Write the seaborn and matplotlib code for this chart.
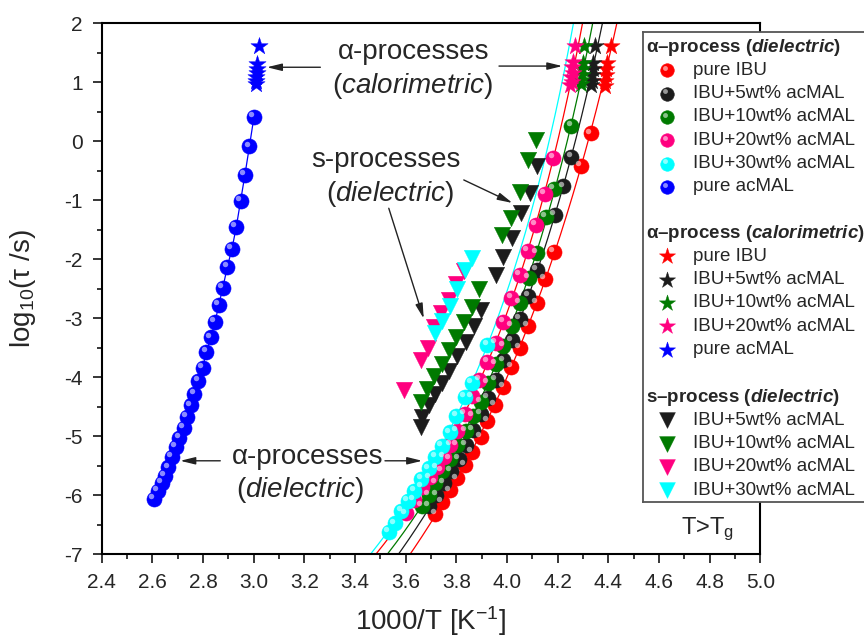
import numpy as np
import matplotlib
matplotlib.use("Agg")
import matplotlib.pyplot as plt
from matplotlib.transforms import offset_copy
import seaborn as sns

sns.set_style("ticks")
plt.rcParams['font.family'] = ['Liberation Sans', 'DejaVu Sans']
plt.rcParams['axes.unicode_minus'] = False
plt.rcParams['mathtext.fontset'] = 'custom'
plt.rcParams['mathtext.rm'] = 'Liberation Sans'
plt.rcParams['mathtext.it'] = 'Liberation Sans:italic'
plt.rcParams['mathtext.bf'] = 'Liberation Sans:bold'
plt.rcParams['mathtext.bfit'] = 'Liberation Sans:bold:italic'

# ---------------------------------------------------------------------------
# data: x = 1000/T [1/K], y = log10(tau/s)
# ---------------------------------------------------------------------------
# alpha-process, dielectric (circles)
ibu_x = [4.330, 4.292, 4.185, 4.149, 4.117, 4.082, 4.049, 4.017, 3.985, 3.952,
         3.922, 3.895, 3.862, 3.832, 3.803, 3.774, 3.744, 3.717]
ibu_y = [0.13, -0.42, -1.88, -2.34, -2.74, -3.13, -3.50, -3.83, -4.17, -4.47,
         -4.75, -5.02, -5.27, -5.49, -5.72, -5.92, -6.11, -6.32]

m5_x = [4.254, 4.222, 4.188, 4.117, 4.084, 4.051, 4.018, 3.985, 3.955, 3.925,
        3.895, 3.866, 3.836, 3.810, 3.777, 3.750, 3.721, 3.691]
m5_y = [-0.27, -0.77, -1.25, -2.19, -2.63, -3.01, -3.38, -3.72, -4.05, -4.35,
        -4.62, -4.90, -5.15, -5.39, -5.59, -5.80, -6.00, -6.19]

m10_x = [4.254, 4.185, 4.153, 4.119, 4.085, 4.049, 4.018, 3.985, 3.955, 3.925,
         3.895, 3.866, 3.836, 3.803, 3.774, 3.744, 3.717, 3.691, 3.665]
m10_y = [0.25, -0.81, -1.28, -1.90, -2.32, -2.75, -3.14, -3.47, -3.78, -4.10,
         -4.42, -4.66, -4.91, -5.15, -5.39, -5.59, -5.80, -6.00, -6.19]

m20_x = [4.183, 4.148, 4.115, 4.081, 4.049, 4.017, 3.985, 3.955, 3.922, 3.891,
         3.862, 3.832, 3.803, 3.776, 3.750, 3.724, 3.695, 3.665, 3.632, 3.599]
m20_y = [-0.29, -0.89, -1.42, -1.86, -2.27, -2.66, -3.06, -3.42, -3.75, -4.05,
         -4.33, -4.62, -4.91, -5.15, -5.35, -5.53, -5.70, -5.86, -6.08, -6.31]

m30_x = [3.922, 3.862, 3.832, 3.800, 3.774, 3.744, 3.717, 3.691, 3.662, 3.634,
         3.609, 3.583, 3.557, 3.533]
m30_y = [-3.46, -4.10, -4.34, -4.66, -4.94, -5.17, -5.36, -5.55, -5.73, -5.93,
         -6.10, -6.27, -6.48, -6.62]

mal_x = [3.001, 2.983, 2.965, 2.948, 2.931, 2.914, 2.896, 2.878, 2.862, 2.848,
         2.831, 2.813, 2.798, 2.782, 2.766, 2.752, 2.737, 2.724, 2.707, 2.692,
         2.677, 2.663, 2.650, 2.637, 2.623, 2.607]
mal_y = [0.41, -0.09, -0.58, -1.02, -1.46, -1.83, -2.13, -2.49, -2.78, -3.06,
         -3.33, -3.58, -3.84, -4.06, -4.28, -4.48, -4.68, -4.86, -5.03, -5.19,
         -5.36, -5.53, -5.67, -5.80, -5.93, -6.07]

# alpha-process, calorimetric (stars)
cal_ibu_x = [4.410, 4.395, 4.392, 4.390, 4.388, 4.386]
cal_ibu_y = [1.61, 1.32, 1.22, 1.12, 1.02, 0.93]
cal_m5_x = [4.347, 4.340, 4.338, 4.336, 4.334, 4.332]
cal_m5_y = [1.61, 1.32, 1.22, 1.12, 1.02, 0.95]
cal_m10_x = [4.304, 4.298, 4.296, 4.294, 4.292, 4.290]
cal_m10_y = [1.61, 1.33, 1.22, 1.12, 1.03, 0.96]
cal_m20_x = [4.268, 4.262, 4.255, 4.260, 4.252, 4.256, 4.250]
cal_m20_y = [1.61, 1.34, 1.25, 1.16, 1.08, 1.00, 0.95]
cal_mal_x = [3.019, 3.013, 3.012, 3.011, 3.010, 3.009, 3.008]
cal_mal_y = [1.61, 1.30, 1.22, 1.15, 1.08, 1.01, 0.96]

# s-process, dielectric (down triangles)
s5_x = [4.119, 4.090, 4.053, 4.021, 3.985, 3.955, 3.895, 3.869, 3.836, 3.803,
        3.770, 3.744, 3.717, 3.691, 3.665, 3.661]
s5_y = [-0.42, -0.88, -1.22, -1.65, -1.96, -2.27, -2.86, -3.14, -3.40, -3.65,
        -3.90, -4.10, -4.28, -4.47, -4.68, -4.85]
s10_x = [4.115, 4.082, 4.051, 4.014, 3.981, 3.889, 3.860, 3.829, 3.800, 3.770,
         3.744, 3.713, 3.685, 3.661]
s10_y = [0.02, -0.33, -0.87, -1.31, -1.59, -2.51, -2.81, -3.06, -3.32, -3.55,
         -3.78, -3.99, -4.20, -4.42]
s20_x = [3.829, 3.800, 3.770, 3.740, 3.711, 3.687, 3.660, 3.595]
s20_y = [-2.20, -2.42, -2.70, -2.92, -3.15, -3.51, -3.71, -4.22]
s30_x = [3.860, 3.832, 3.803, 3.774, 3.744, 3.715]
s30_y = [-1.99, -2.19, -2.51, -2.80, -3.05, -3.25]

RED, BLK, GRN, PNK, CYN, BLU = '#ff0000', '#1c1c1c', '#007a00', '#ff007f', '#00ffff', '#0000ff'


def vft_curve(x, y):
    """VFT fit log10(tau) = A + B/(T - T0), evaluated against 1000/T."""
    x = np.asarray(x, float)
    y = np.asarray(y, float)
    best = None
    for t0 in np.arange(50.0, 1000.0 / x.max() - 2.0, 0.25):
        u = x / (1000.0 - t0 * x)
        M = np.column_stack([np.ones_like(u), u])
        coef = np.linalg.lstsq(M, y, rcond=None)[0]
        sse = np.sum((M @ coef - y) ** 2)
        if best is None or sse < best[0]:
            best = (sse, t0, coef)
    _, t0, (a, b) = best
    xs = np.linspace(3.3, 1000.0 / t0 - 1e-3, 3000)
    ys = a + b * xs / (1000.0 - t0 * xs)
    keep = (ys > -7.3) & (ys < 2.3)
    return xs[keep], ys[keep]


fig = plt.figure(figsize=(8.64, 6.39), dpi=100)
ax = fig.add_axes([0.1177, 0.133, 0.7625, 0.831])
hl = offset_copy(ax.transData, fig=fig, x=-2.0, y=2.0, units='points')


def spheres(a, x, y, color, s=118, hl_tr=None):
    a.scatter(x, y, s=s, color=color, edgecolor=color, linewidth=0.4, zorder=4)
    a.scatter(x, y, s=s * 0.13, color='white', alpha=0.55, linewidth=0,
              transform=hl_tr, zorder=4.1)


# fit curves
for (fx, fy, lc) in [(ibu_x, ibu_y, RED), (m5_x, m5_y, BLK), (m10_x, m10_y, GRN),
                     (m20_x, m20_y, RED), (m30_x, m30_y, CYN)]:
    cx, cy = vft_curve(fx, fy)
    sns.lineplot(x=cx, y=cy, sort=False, estimator=None, color=lc, lw=0.9, ax=ax, zorder=2)
sns.lineplot(x=mal_x, y=mal_y, sort=False, estimator=None, color=BLU, lw=0.9, ax=ax, zorder=2)

# s-process triangles
for (tx, ty, c) in [(s5_x, s5_y, BLK), (s10_x, s10_y, GRN), (s20_x, s20_y, PNK), (s30_x, s30_y, CYN)]:
    sns.scatterplot(x=tx, y=ty, marker='v', s=140, color=c, edgecolor=c, linewidth=0.3, ax=ax, zorder=3)

# dielectric alpha circles
for (cx, cy, c) in [(ibu_x, ibu_y, RED), (m5_x, m5_y, BLK), (m10_x, m10_y, GRN),
                    (m20_x, m20_y, PNK), (m30_x, m30_y, CYN), (mal_x, mal_y, BLU)]:
    spheres(ax, cx, cy, c, hl_tr=hl)

# calorimetric stars
for (sx, sy, c) in [(cal_ibu_x, cal_ibu_y, RED), (cal_m5_x, cal_m5_y, BLK),
                    (cal_m10_x, cal_m10_y, GRN), (cal_m20_x, cal_m20_y, PNK),
                    (cal_mal_x, cal_mal_y, BLU)]:
    sns.scatterplot(x=sx, y=sy, marker='*', s=170, color=c, edgecolor=c, linewidth=0.3, ax=ax, zorder=5)

# axes styling
ax.set_xlim(2.4, 5.0)
ax.set_ylim(-7, 2)
ax.set_xticks(np.arange(2.4, 5.01, 0.2))
ax.set_xticks(np.arange(2.4, 5.01, 0.1), minor=True)
ax.set_yticks(np.arange(-7, 2.1, 1))
ax.set_yticks(np.arange(-7, 2.1, 0.5), minor=True)
ax.xaxis.set_major_formatter(matplotlib.ticker.FormatStrFormatter('%.1f'))
ax.tick_params(which='major', direction='out', length=6.5, width=1.3, labelsize=15, pad=7)
ax.tick_params(which='minor', direction='out', length=3.6, width=1.3)
ax.tick_params(top=False, right=False, which='both')
for sp in ax.spines.values():
    sp.set_linewidth(1.5)
    sp.set_color('black')
ax.set_xlabel('1000/T [K$^{\\mathregular{-1}}$]', fontsize=20)
ax.set_ylabel('log$_{\\mathregular{10}}$(τ /s)', fontsize=20)
ax.xaxis.set_label_coords(0.5, -0.094)
ax.yaxis.set_label_coords(-0.097, 0.5)

# annotations
arrow = dict(arrowstyle='-|>,head_length=0.9,head_width=0.22', color='#222222', lw=1.0, shrinkA=0, shrinkB=0)
ax.text(3.631, 1.51, 'α-processes', fontsize=20, ha='center', va='center')
ax.text(3.627, 0.93, '($\\mathit{calorimetric}$)', fontsize=20, ha='center', va='center')
ax.annotate('', xy=(4.218, 1.27), xytext=(3.968, 1.27), arrowprops=arrow)
ax.annotate('', xy=(3.052, 1.25), xytext=(3.263, 1.25), arrowprops=arrow)

ax.text(3.520, -0.32, 's-processes', fontsize=20, ha='center', va='center')
ax.text(3.540, -0.89, '($\\mathit{dielectric}$)', fontsize=20, ha='center', va='center')
ax.annotate('', xy=(4.021, -1.05), xytext=(3.829, -0.66), arrowprops=arrow)
ax.annotate('', xy=(3.671, -3.01), xytext=(3.533, -1.14), arrowprops=arrow)

ax.text(3.212, -5.36, 'α-processes', fontsize=20, ha='center', va='center')
ax.text(3.185, -5.92, '($\\mathit{dielectric}$)', fontsize=20, ha='center', va='center')
ax.annotate('', xy=(3.665, -5.42), xytext=(3.518, -5.42), arrowprops=arrow)
ax.annotate('', xy=(2.710, -5.42), xytext=(2.868, -5.42), arrowprops=arrow)

ax.text(4.79, -6.58, 'T>T$_{\\mathregular{g}}$', fontsize=17, ha='center', va='center')

# ---------------------------------------------------------------------------
# legend box (pixel coordinates of the figure)
# ---------------------------------------------------------------------------
lax = fig.add_axes([643 / 864, 1 - 502 / 639, 1.0, (502 - 32) / 639])
lax.set_xlim(643, 643 + 864)
lax.set_ylim(502, 32)
lax.set_xticks([])
lax.set_yticks([])
lax.set_facecolor('white')
for k, sp in lax.spines.items():
    sp.set_color('#555555')
    sp.set_linewidth(1.3)
lax.spines['right'].set_visible(False)
lhl = offset_copy(lax.transData, fig=fig, x=-1.6, y=1.6, units='points')

groups = [
    ('$\\mathbf{α–process\\ (}\\mathbfit{dielectric}\\mathbf{)}$', 47, 'o',
     [('pure IBU', RED), ('IBU+5wt% acMAL', BLK), ('IBU+10wt% acMAL', GRN),
      ('IBU+20wt% acMAL', PNK), ('IBU+30wt% acMAL', CYN), ('pure acMAL', BLU)]),
    ('$\\mathbf{α–process\\ (}\\mathbfit{calorimetric}\\mathbf{)}$', 233, '*',
     [('pure IBU', RED), ('IBU+5wt% acMAL', BLK), ('IBU+10wt% acMAL', GRN),
      ('IBU+20wt% acMAL', PNK), ('pure acMAL', BLU)]),
    ('$\\mathbf{s–process\\ (}\\mathbfit{dielectric}\\mathbf{)}$', 397, 'v',
     [('IBU+5wt% acMAL', BLK), ('IBU+10wt% acMAL', GRN),
      ('IBU+20wt% acMAL', PNK), ('IBU+30wt% acMAL', CYN)]),
]
step = 23.3
for title, y0, mk, items in groups:
    lax.text(646, y0, title, fontsize=13.5, ha='left', va='center')
    for i, (lab, c) in enumerate(items):
        yy = y0 + step * (i + 1)
        if mk == 'o':
            spheres(lax, [667], [yy], c, s=95, hl_tr=lhl)
        else:
            lax.scatter([667], [yy], marker=mk, s=150 if mk == '*' else 130,
                        color=c, edgecolor=c, linewidth=0.3, zorder=4)
        lax.text(693, yy, lab, fontsize=13.5, ha='left', va='center')

fig.savefig('out.png', dpi=100)
